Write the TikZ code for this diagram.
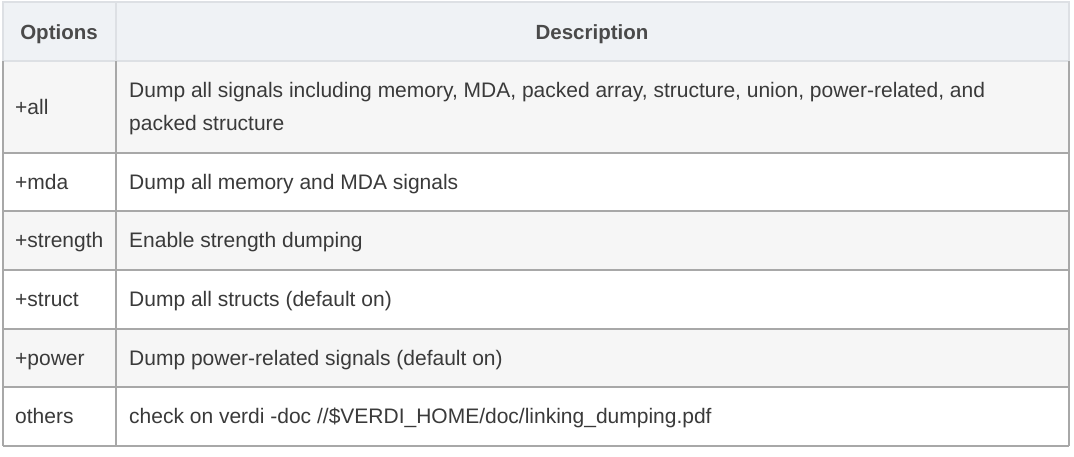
\documentclass[tikz,border=0pt]{standalone}
\usepackage{fontspec}
\setmainfont{Liberation Sans}
\definecolor{hdrfill}{HTML}{EFF2F5}
\definecolor{rowgray}{HTML}{F6F6F6}
\definecolor{hdrline}{HTML}{DDE0E4}
\definecolor{bodyline}{HTML}{A8A8A8}
\definecolor{bodytext}{HTML}{3A3A3A}
\definecolor{hdrtext}{HTML}{4A4A4A}
\tikzset{
  celltext/.style={anchor=base west, inner sep=0pt, text=bodytext, font=\fontsize{21}{25}\selectfont},
  hdrcell/.style={anchor=base, inner sep=0pt, text=hdrtext, font=\fontsize{20.5}{24}\selectfont\bfseries},
  lightrule/.style={draw=hdrline, line width=2pt},
  darkrule/.style={draw=bodyline, line width=2pt},
}
\begin{document}
\begin{tikzpicture}[x=1pt,y=-1pt]
\useasboundingbox[fill=white] (0,0) rectangle (1074,457);
% coordinates
\def\L{2.5}\def\M{116}\def\R{1068.5}
% fills
\fill[hdrfill] (\L,2) rectangle (\R,61);
\fill[rowgray] (\L,61) rectangle (\R,153);
\fill[white] (\L,153) rectangle (\R,211.5);
\fill[rowgray] (\L,211.5) rectangle (\R,270);
\fill[white] (\L,270) rectangle (\R,328.5);
\fill[rowgray] (\L,328.5) rectangle (\R,387);
\fill[white] (\L,387) rectangle (\R,445.5);
% header rules
\draw[lightrule] (\L,2) rectangle (\R,61);
\draw[lightrule] (\M,2) -- (\M,61);
% body rules
\foreach \yy in {153,211.5,270,328.5,387,445.5}
  \draw[darkrule] (\L,\yy) -- (\R,\yy);
\foreach \xx in {\L,\M,\R}
  \draw[darkrule] (\xx,61) -- (\xx,445.5);
% header text
\node[hdrcell] (hOpt) at (59,39.5) {Options};
\node[hdrcell] (hDesc) at (592,39.5) {Description};
% options column
\node[celltext] (o1) at (15,114.2) {+all};
\node[celltext] (o2) at (15,189.5) {+mda};
\node[celltext] (o3) at (15,248) {+strength};
\node[celltext] (o4) at (15,306.5) {+struct};
\node[celltext] (o5) at (15,365) {+power};
\node[celltext] (o6) at (15,423.5) {others};
% description column
\node[celltext] (d1) at (129,97.7) {Dump all signals including memory, MDA, packed array, structure, union, power-related, and};
\node[celltext] (d1b) at (129,130.3) {packed structure};
\node[celltext] (d2) at (129,189.5) {Dump all memory and MDA signals};
\node[celltext] (d3) at (129,248) {Enable strength dumping};
\node[celltext] (d4) at (129,306.5) {Dump all structs (default on)};
\node[celltext] (d5) at (129,365) {Dump power-related signals (default on)};
\node[celltext] (d6) at (129,423.5) {check on verdi -doc //\$VERDI\_HOME/doc/linking\_dumping.pdf};
\end{tikzpicture}
\end{document}
